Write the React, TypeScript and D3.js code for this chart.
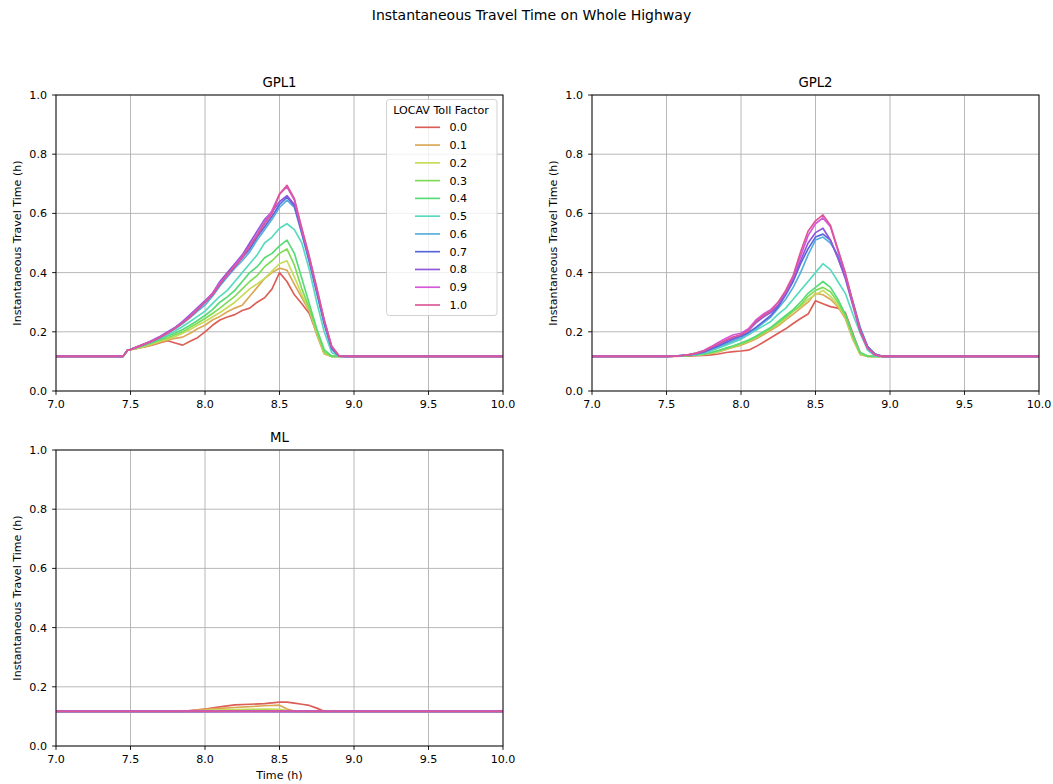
import React from 'react';
import * as d3 from 'd3';

const TOLL_FACTORS = ['0.0', '0.1', '0.2', '0.3', '0.4', '0.5', '0.6', '0.7', '0.8', '0.9', '1.0'];
const X_TICKS = [7.0, 7.5, 8.0, 8.5, 9.0, 9.5, 10.0];
const Y_TICKS = [0.0, 0.2, 0.4, 0.6, 0.8, 1.0];

// time grid shared by GPL1 / GPL2
const T = [7.0, 7.45, 7.48,
  7.5, 7.55, 7.6, 7.65, 7.7, 7.75, 7.8, 7.85, 7.9, 7.95,
  8.0, 8.05, 8.1, 8.15, 8.2, 8.25, 8.3, 8.35, 8.4, 8.45,
  8.5, 8.55, 8.6, 8.65, 8.7, 8.75, 8.8, 8.85, 8.9, 8.95,
  10.0];

const GPL1_00 = [.117, .117, .138, .14, .145, .15, .156, .163, .17, .162, .155, .168, .18, .20, .222, .24, .25, .258, .272, .28, .30, .315, .345, .40, .37, .325, .295, .262, .195, .127, .117, .117, .117, .117];
const GPL1_01 = [.117, .117, .138, .14, .145, .15, .157, .165, .172, .178, .182, .195, .21, .222, .24, .252, .268, .28, .29, .32, .35, .38, .40, .415, .408, .36, .315, .27, .19, .125, .117, .117, .117, .117];
const GPL1_02 = [.117, .117, .138, .14, .145, .152, .16, .168, .176, .184, .195, .208, .222, .235, .25, .265, .282, .30, .322, .345, .362, .38, .405, .43, .44, .385, .325, .275, .198, .128, .117, .117, .117, .117];
const GPL1_03 = [.117, .117, .138, .14, .147, .155, .163, .172, .18, .19, .20, .215, .23, .245, .262, .28, .30, .32, .345, .37, .39, .42, .44, .465, .48, .425, .345, .28, .205, .133, .117, .117, .117, .117];
const GPL1_04 = [.117, .117, .138, .14, .148, .157, .166, .176, .186, .196, .208, .222, .238, .255, .275, .30, .318, .34, .37, .40, .42, .45, .465, .49, .51, .465, .38, .295, .21, .14, .118, .117, .117, .117];
const GPL1_05 = [.117, .117, .138, .14, .149, .158, .168, .178, .19, .203, .218, .235, .252, .27, .295, .32, .34, .37, .40, .43, .46, .50, .52, .55, .565, .545, .50, .41, .30, .20, .13, .117, .117, .117];
const GPL1_06 = [.117, .117, .138, .14, .15, .158, .168, .18, .195, .21, .228, .248, .27, .29, .32, .355, .385, .415, .44, .47, .51, .545, .58, .62, .645, .62, .53, .435, .33, .225, .14, .118, .117, .117];
const GPL1_07 = [.117, .117, .138, .14, .15, .16, .17, .182, .198, .215, .232, .25, .275, .30, .325, .36, .39, .42, .45, .48, .52, .555, .59, .63, .655, .625, .535, .44, .335, .23, .145, .118, .117, .117];
const GPL1_08 = [.117, .117, .138, .14, .15, .16, .172, .185, .20, .215, .235, .258, .282, .305, .33, .37, .40, .43, .46, .50, .54, .58, .605, .64, .66, .63, .54, .445, .34, .235, .148, .118, .117, .117];
const GPL1_09 = [.117, .117, .138, .14, .15, .16, .17, .183, .197, .213, .232, .254, .278, .30, .33, .365, .39, .425, .455, .49, .53, .57, .61, .665, .69, .645, .545, .45, .345, .24, .15, .118, .117, .117];
const GPL1_10 = [.117, .117, .138, .14, .15, .16, .17, .182, .196, .212, .23, .25, .275, .30, .325, .36, .395, .42, .45, .49, .525, .565, .60, .665, .695, .65, .55, .455, .35, .24, .152, .118, .117, .117];

const GPL2_00 = [.117, .117, .117, .117, .117, .118, .118, .119, .12, .122, .125, .13, .133, .135, .138, .15, .165, .18, .195, .21, .228, .245, .26, .305, .295, .285, .28, .265, .195, .128, .117, .117, .117, .117];
const GPL2_01 = [.117, .117, .117, .117, .118, .119, .12, .121, .123, .127, .132, .14, .148, .155, .165, .176, .19, .205, .22, .24, .26, .28, .30, .33, .325, .31, .285, .245, .175, .123, .117, .117, .117, .117];
const GPL2_02 = [.117, .117, .117, .117, .118, .119, .12, .121, .124, .128, .134, .142, .15, .158, .168, .18, .195, .21, .225, .245, .27, .285, .31, .325, .34, .32, .29, .25, .18, .125, .117, .117, .117, .117];
const GPL2_03 = [.117, .117, .117, .117, .118, .119, .12, .122, .125, .13, .137, .145, .152, .16, .17, .182, .197, .212, .23, .25, .27, .29, .32, .34, .35, .335, .30, .255, .185, .128, .118, .117, .117, .117];
const GPL2_04 = [.117, .117, .117, .117, .118, .119, .12, .122, .125, .13, .137, .145, .153, .162, .172, .185, .20, .215, .235, .255, .275, .30, .33, .35, .37, .35, .31, .26, .19, .13, .118, .117, .117, .117];
const GPL2_05 = [.117, .117, .117, .117, .118, .12, .121, .124, .128, .135, .145, .155, .165, .175, .19, .205, .22, .235, .26, .28, .31, .34, .37, .40, .43, .41, .37, .33, .26, .195, .138, .118, .117, .117];
const GPL2_06 = [.117, .117, .117, .117, .118, .12, .122, .125, .13, .14, .15, .16, .17, .18, .195, .21, .23, .25, .28, .31, .35, .40, .46, .51, .52, .50, .46, .39, .305, .215, .15, .125, .117, .117];
const GPL2_07 = [.117, .117, .117, .117, .118, .12, .122, .126, .132, .142, .153, .165, .176, .185, .198, .215, .235, .255, .285, .325, .37, .43, .48, .52, .53, .51, .45, .385, .30, .21, .15, .125, .117, .117];
const GPL2_08 = [.117, .117, .117, .117, .118, .12, .122, .127, .134, .145, .158, .17, .18, .19, .205, .23, .25, .265, .29, .33, .38, .44, .50, .535, .55, .51, .45, .38, .29, .20, .145, .122, .117, .117];
const GPL2_09 = [.117, .117, .117, .117, .118, .12, .123, .128, .137, .15, .165, .178, .19, .195, .21, .24, .26, .275, .30, .335, .385, .455, .525, .565, .585, .555, .475, .395, .30, .205, .145, .122, .117, .117];
const GPL2_10 = [.117, .117, .117, .117, .118, .12, .123, .128, .135, .148, .16, .172, .183, .19, .205, .235, .255, .27, .30, .34, .39, .47, .54, .575, .595, .56, .48, .40, .30, .205, .145, .122, .117, .117];

// ML panel time grid
const T_ML = [7.0, 7.85, 7.9, 7.95, 8.0, 8.1, 8.2, 8.3, 8.4, 8.5, 8.55, 8.6, 8.65, 8.7, 8.75, 8.8, 10.0];
const ML_00 = [.117, .117, .12, .122, .125, .132, .139, .141, .143, .148, .148, .145, .141, .137, .128, .117, .117];
const ML_01 = [.117, .117, .119, .121, .124, .127, .130, .133, .136, .138, .125, .118, .117, .117, .117, .117, .117];
const ML_02 = [.117, .117, .117, .118, .12, .122, .123, .124, .125, .124, .12, .117, .117, .117, .117, .117, .117];
const ML_03 = [.117, .117, .117, .117, .117, .118, .119, .12, .12, .118, .117, .117, .117, .117, .117, .117, .117];
const ML_04 = [.117, .117, .117, .117, .117, .117, .118, .118, .118, .117, .117, .117, .117, .117, .117, .117, .117];
const ML_05 = [.117, .117, .117, .117, .117, .117, .117, .117, .117, .117, .117, .117, .117, .117, .117, .117, .117];
const ML_06 = [.117, .117, .117, .117, .117, .117, .117, .117, .117, .117, .117, .117, .117, .117, .117, .117, .117];
const ML_07 = [.117, .117, .117, .117, .117, .117, .117, .117, .117, .117, .117, .117, .117, .117, .117, .117, .117];
const ML_08 = [.117, .117, .117, .117, .117, .117, .117, .117, .117, .117, .117, .117, .117, .117, .117, .117, .117];
const ML_09 = [.117, .117, .117, .117, .117, .117, .117, .117, .117, .117, .117, .117, .117, .117, .117, .117, .117];
const ML_10 = [.117, .117, .117, .117, .117, .117, .117, .117, .117, .117, .117, .117, .117, .117, .117, .117, .117];

const GPL1 = [GPL1_00, GPL1_01, GPL1_02, GPL1_03, GPL1_04, GPL1_05, GPL1_06, GPL1_07, GPL1_08, GPL1_09, GPL1_10];
const GPL2 = [GPL2_00, GPL2_01, GPL2_02, GPL2_03, GPL2_04, GPL2_05, GPL2_06, GPL2_07, GPL2_08, GPL2_09, GPL2_10];
const ML = [ML_00, ML_01, ML_02, ML_03, ML_04, ML_05, ML_06, ML_07, ML_08, ML_09, ML_10];

const FONT = 'DejaVu Sans, sans-serif';
const TICK_FS = 11.1;
const colors = TOLL_FACTORS.map((_, i) => d3.hsl((0.01 + i / 11) * 360, 0.65, 0.6).formatHex());

function Panel({ left, top, width, height, title, times, series, xLabel, legend }: any) {
  const x = d3.scaleLinear().domain([7, 10]).range([left, left + width]);
  const y = d3.scaleLinear().domain([0, 1]).range([top + height, top]);
  const line = d3.line<number>().x((_, i) => x(times[i])).y((d) => y(d));
  const bottom = top + height;
  return (
    <g>
      {X_TICKS.map((t) => (
        <line key={'gx' + t} x1={x(t)} x2={x(t)} y1={top} y2={bottom} stroke="#b0b0b0" strokeWidth={0.9} />
      ))}
      {Y_TICKS.map((t) => (
        <line key={'gy' + t} x1={left} x2={left + width} y1={y(t)} y2={y(t)} stroke="#b0b0b0" strokeWidth={0.9} />
      ))}
      <g>
        {series.map((s: number[], i: number) => (
          <path key={i} d={line(s) || ''} fill="none" stroke={colors[i]} strokeWidth={1.67} strokeLinejoin="round" />
        ))}
      </g>
      <rect x={left} y={top} width={width} height={height} fill="none" stroke="#000" strokeWidth={0.9} />
      {X_TICKS.map((t) => (
        <g key={'tx' + t}>
          <line x1={x(t)} x2={x(t)} y1={bottom} y2={bottom + 3.9} stroke="#000" strokeWidth={0.9} />
          <text x={x(t)} y={bottom + 17.3} textAnchor="middle" fontSize={TICK_FS} fontFamily={FONT} fill="#000">{t.toFixed(1)}</text>
        </g>
      ))}
      {Y_TICKS.map((t) => (
        <g key={'ty' + t}>
          <line x1={left - 3.9} x2={left} y1={y(t)} y2={y(t)} stroke="#000" strokeWidth={0.9} />
          <text x={left - 9} y={y(t) + 4} textAnchor="end" fontSize={TICK_FS} fontFamily={FONT} fill="#000">{t.toFixed(1)}</text>
        </g>
      ))}
      <text x={left + width / 2} y={top - 8} textAnchor="middle" fontSize={13.3} fontFamily={FONT} fill="#000">{title}</text>
      <text transform={`translate(${left - 35},${top + height / 2}) rotate(-90)`} textAnchor="middle" fontSize={TICK_FS} fontFamily={FONT} fill="#000">Instantaneous Travel Time (h)</text>
      {xLabel && (
        <text x={left + width / 2} y={bottom + 33} textAnchor="middle" fontSize={TICK_FS} fontFamily={FONT} fill="#000">{xLabel}</text>
      )}
      {legend && (
        <g>
          <rect x={386.5} y={99.5} width={110.5} height={216} rx={3} fill="#fff" fillOpacity={0.8} stroke="#cccccc" strokeWidth={0.9} />
          <text x={441} y={114.3} textAnchor="middle" fontSize={TICK_FS} fontFamily={FONT} fill="#000">LOCAV Toll Factor</text>
          {TOLL_FACTORS.map((f, i) => (
            <g key={f}>
              <line x1={415} x2={440} y1={127.3 + i * 17.77} y2={127.3 + i * 17.77} stroke={colors[i]} strokeWidth={1.67} />
              <text x={449.5} y={127.3 + i * 17.77 + 4} fontSize={TICK_FS} fontFamily={FONT} fill="#000">{f}</text>
            </g>
          ))}
        </g>
      )}
    </g>
  );
}

export default function App() {
  return (
    <svg width={1053} height={784} style={{ position: 'absolute', left: 0, top: 0, background: '#fff' }}>
      <rect x={0} y={0} width={1053} height={784} fill="#fff" />
      <text x={531.5} y={20} textAnchor="middle" fontSize={14} fontFamily={FONT} fill="#000">Instantaneous Travel Time on Whole Highway</text>
      <Panel left={56} top={95} width={447} height={296} title="GPL1" times={T} series={GPL1} legend />
      <Panel left={592} top={95} width={447} height={296} title="GPL2" times={T} series={GPL2} />
      <Panel left={56} top={450} width={447} height={296} title="ML" times={T_ML} series={ML} xLabel="Time (h)" />
    </svg>
  );
}
